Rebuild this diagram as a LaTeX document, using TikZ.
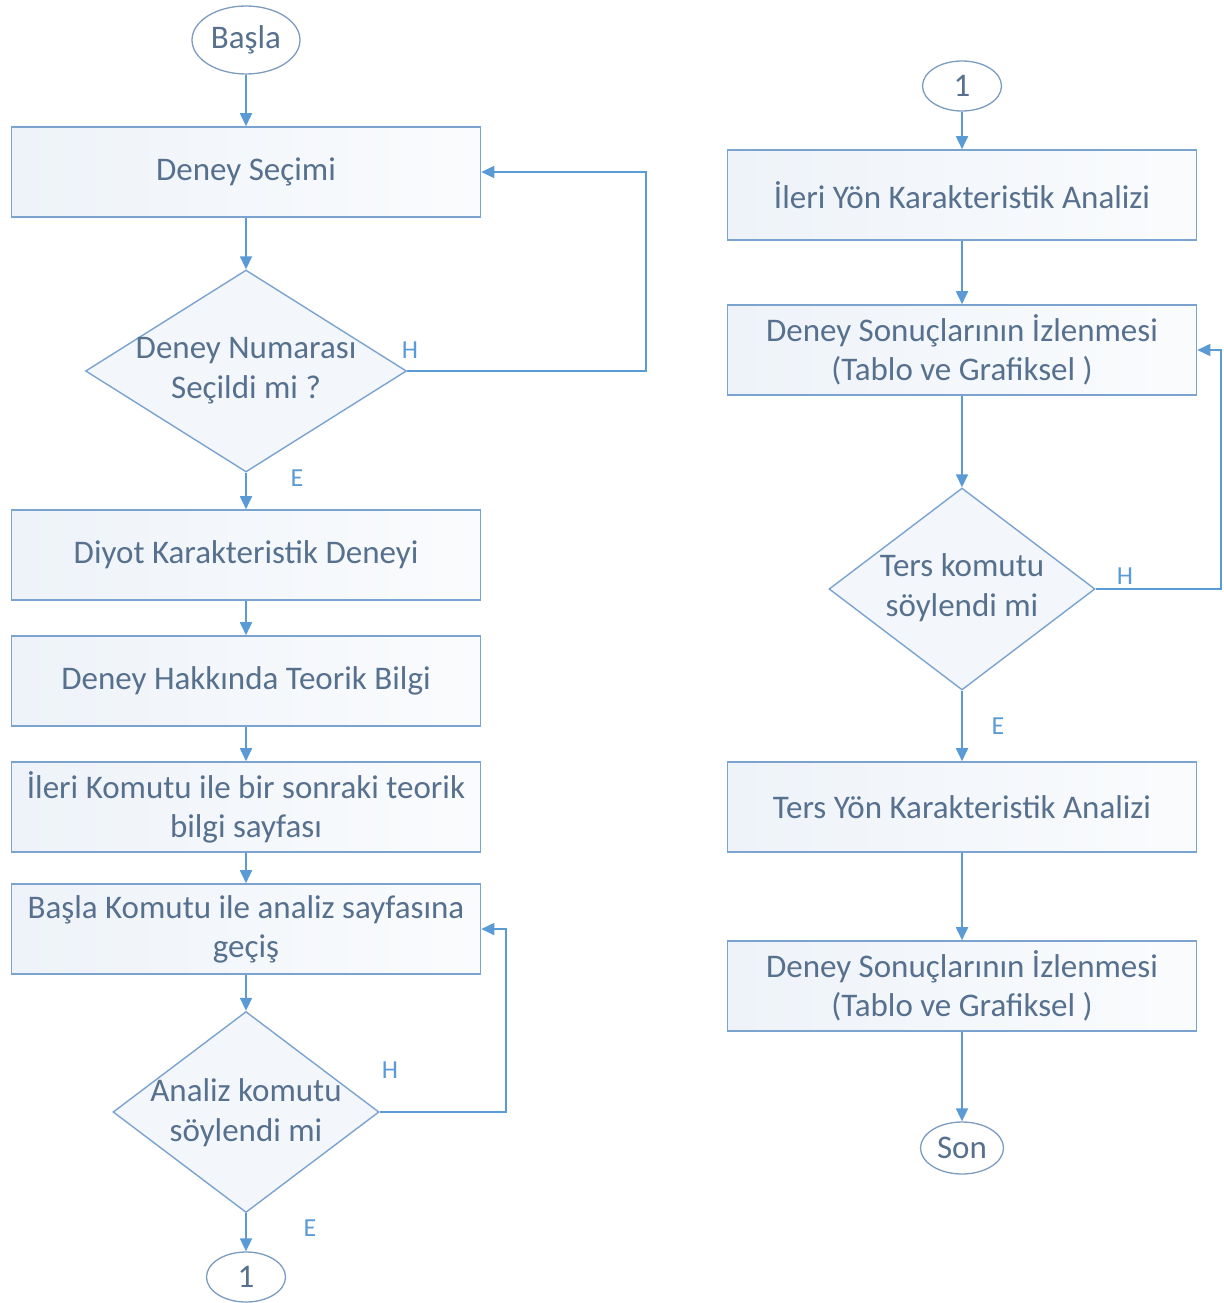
\documentclass[tikz,border=0pt]{standalone}
\usepackage{fontspec}
\setmainfont{Carlito}
\usetikzlibrary{shapes.geometric,arrows.meta}
\definecolor{lineblue}{HTML}{5B9BD5}
\definecolor{edgeblue}{HTML}{7BA3CF}
\definecolor{txtblue}{HTML}{56708E}
\definecolor{fillblue}{HTML}{EEF3F9}
\tikzset{
  procbox/.style={draw=edgeblue, line width=1.6pt, left color=fillblue, right color=white!70!fillblue,
    minimum width=469pt, minimum height=90pt, inner sep=0pt, text=txtblue, align=center,
    font=\fontsize{33}{39}\selectfont},
  decbox/.style={draw=edgeblue, line width=1.4pt, shape=diamond, fill=fillblue!70!white, inner sep=0pt},
  dectext/.style={text=txtblue, align=center, font=\fontsize{33}{40}\selectfont, inner sep=0pt},
  termbox/.style={draw=edgeblue!80!gray, line width=1.3pt, shape=ellipse, fill=white, inner sep=0pt,
    text=txtblue, font=\fontsize{33}{36}\selectfont},
  yn/.style={text=lineblue, font=\fontsize{26}{28}\selectfont, inner sep=0pt},
  conn/.style={draw=lineblue, line width=1.8pt, -{Triangle[length=13pt,width=12pt]}},
}
\begin{document}
\begin{tikzpicture}[x=1pt,y=-1pt]
\useasboundingbox (0,0) rectangle (1223,1303);
% left column
\node[termbox, minimum width=108pt, minimum height=68pt] (start) at (246,40) {Başla};
\node[procbox] (b1) at (246,172) {Deney Seçimi};
\node[decbox, minimum width=321pt, minimum height=202pt] (d1) at (246,371) {};
\node[dectext] (d1t) at (246,371) {Deney Numarası\\Seçildi mi ?};
\node[procbox] (b2) at (246,555) {Diyot Karakteristik Deneyi};
\node[procbox] (b3) at (246,681) {Deney Hakkında Teorik Bilgi};
\node[procbox] (b4) at (246,807) {İleri Komutu ile bir sonraki teorik\\bilgi sayfası};
\node[procbox] (b5) at (246,929) {Başla Komutu ile analiz sayfasına\\geçiş};
\node[decbox, minimum width=266pt, minimum height=201pt] (d2) at (246,1112) {};
\node[dectext] (d2t) at (246,1113) {Analiz komutu\\söylendi mi};
\node[termbox, minimum width=79pt, minimum height=50pt] (c1) at (246,1277) {1};
\node[yn] (h1) at (410,350) {H};
\node[yn] (e1) at (297,478) {E};
\node[yn] (h2) at (390,1070) {H};
\node[yn] (e2) at (310,1228) {E};
\coordinate (l1a) at (646,371);
\coordinate (l1b) at (646,172);
\coordinate (l2a) at (506,1112);
\coordinate (l2b) at (506,929);
\draw[conn] (start) -- (b1);
\draw[conn] (b1) -- (d1);
\draw[conn] (d1) -- (b2);
\draw[conn] (b2) -- (b3);
\draw[conn] (b3) -- (b4);
\draw[conn] (b4) -- (b5);
\draw[conn] (b5) -- (d2);
\draw[conn] (d2) -- (c1);
\draw[conn] (d1.east) -- (l1a) -- (l1b) -- (b1.east);
\draw[conn] (d2.east) -- (l2a) -- (l2b) -- (b5.east);
% right column
\node[termbox, minimum width=79pt, minimum height=50pt] (c2) at (962,86) {1};
\node[procbox] (r1) at (962,195) {İleri Yön Karakteristik Analizi};
\node[procbox] (r2) at (962,350) {Deney Sonuçlarının İzlenmesi\\(Tablo ve Grafiksel )};
\node[decbox, minimum width=266pt, minimum height=202pt] (d3) at (962,589) {};
\node[dectext] (d3t) at (962,588) {Ters komutu\\söylendi mi};
\node[procbox] (r3) at (962,807) {Ters Yön Karakteristik Analizi};
\node[procbox] (r4) at (962,986) {Deney Sonuçlarının İzlenmesi\\(Tablo ve Grafiksel )};
\node[termbox, minimum width=83pt, minimum height=52pt] (son) at (962,1148) {Son};
\node[yn] (h3) at (1125,576) {H};
\node[yn] (e3) at (998,726) {E};
\coordinate (l3a) at (1221,589);
\coordinate (l3b) at (1221,350);
\draw[conn] (c2) -- (r1);
\draw[conn] (r1) -- (r2);
\draw[conn] (r2) -- (d3);
\draw[conn] (d3) -- (r3);
\draw[conn] (r3) -- (r4);
\draw[conn] (r4) -- (son);
\draw[conn] (d3.east) -- (l3a) -- (l3b) -- (r2.east);
\end{tikzpicture}
\end{document}
